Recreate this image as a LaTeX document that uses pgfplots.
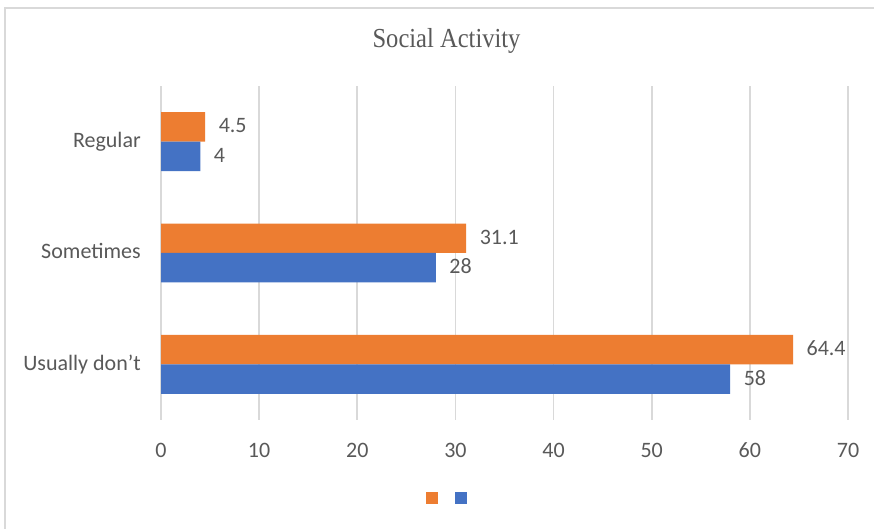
\documentclass[border=0pt]{standalone}
\usepackage{fontspec}
\setmainfont{Carlito}
\newfontfamily\titlefont{Liberation Serif}
\usepackage{graphicx}
\usepackage{pgfplots}
\pgfplotsset{compat=1.18}
\usepackage{pgfplotstable}

\definecolor{barorange}{HTML}{ED7D31}
\definecolor{barblue}{HTML}{4472C4}
\definecolor{txtgray}{HTML}{595959}
\definecolor{gridgray}{HTML}{D9D9D9}

% Percentages per category (0 = Usually don't, 1 = Sometimes, 2 = Regular)
\pgfplotstableread{
cat val
0 64.4
1 31.1
2 4.5
}\seriesA
\pgfplotstableread{
cat val
0 58
1 28
2 4
}\seriesB

\newcommand{\lblfont}{\fontsize{16.5}{20}\selectfont}

\begin{document}
\begin{tikzpicture}
\useasboundingbox (0,0) rectangle (655.5pt,396pt);
\fill[white] (0,0) rectangle (655.5pt,396pt);
\clip (0,0) rectangle (655.5pt,396pt);
% chart frame
\draw[gridgray, line width=1.5pt] (3.75pt,-20pt) -- (3.75pt,390pt) -- (680pt,390pt);
% title
\node[anchor=base, text=txtgray, inner sep=0pt] at (334.9pt,360pt)
  {\titlefont\fontsize{18.4}{22}\selectfont\scalebox{1}[1.12]{Social Activity}};

\begin{axis}[
  at={(120.75pt,81pt)}, anchor=south west,
  scale only axis,
  width=515.25pt, height=250.5pt,
  xbar, bar width=22.1pt,
  xmin=0, xmax=70,
  ymin=-0.5, ymax=2.5,
  separate axis lines,
  axis line style={draw=none},
  xtick={0,10,...,70},
  ytick={0,1,2},
  yticklabels={Usually don’t, Sometimes, Regular},
  xmajorgrids,
  grid style={gridgray, line width=1.2pt},
  major tick length=0pt,
  tick style={draw=none},
  /pgf/number format/assume math mode=true,
  ticklabel style={font=\lblfont, text=txtgray},
  xticklabel style={inner sep=0pt, anchor=north, yshift=-17pt},
  yticklabel style={inner sep=0pt, anchor=base east, xshift=-15pt, yshift=-0.45em},
  nodes near coords,
  every node near coord/.append style={font=\lblfont, text=txtgray,
    anchor=base west, inner sep=0pt, xshift=10pt, yshift=-0.45em},
  legend image code/.code={\fill[#1,draw=none] (0pt,-4.5pt) rectangle (9pt,4.5pt);},
  legend style={draw=none, fill=none, at={(0.417,-0.2335)}, anchor=center,
    legend columns=2, nodes={inner sep=0pt},
    /tikz/every even column/.append style={column sep=12pt}},
]
\addplot[fill=barorange, draw=none, bar shift=11.05pt] table[x=val, y=cat] {\seriesA};
\addlegendentry{}
\addplot[fill=barblue, draw=none, bar shift=-11.05pt] table[x=val, y=cat] {\seriesB};
\addlegendentry{}
\end{axis}
\end{tikzpicture}
\end{document}
